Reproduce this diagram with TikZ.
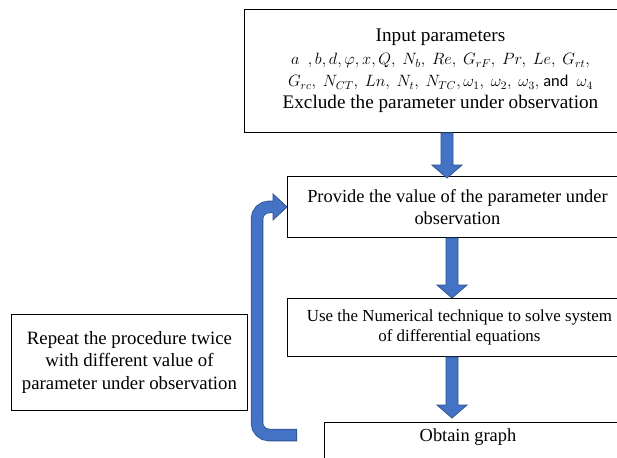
\RequirePackage{fix-cm}
\documentclass[tikz,border=0pt]{standalone}
\usepackage{fontspec}
\setmainfont{Liberation Serif}
\newfontfamily\andfont{Carlito}
\usetikzlibrary{calc}
\definecolor{arrowblue}{HTML}{4472C4}
\definecolor{arrowedge}{HTML}{2F528F}
\newcommand\fatdown[2]{%
  \filldraw[fatarrow] ($(#1)+(-6,0)$) -- ($(#2)+(-6,-13)$) -- ($(#2)+(-15,-13)$) -- (#2)
    -- ($(#2)+(15,-13)$) -- ($(#2)+(6,-13)$) -- ($(#1)+(6,0)$) -- cycle;}
\newcommand\mathline{\fontsize{16.4}{23}\selectfont}
\begin{document}
\begin{tikzpicture}[x=1pt,y=-1pt,
  box/.style={draw=black, line width=0.9pt, inner sep=0pt, align=center,
    font=\fontsize{18.4}{22}\selectfont, anchor=north west},
  fatarrow/.style={fill=arrowblue, draw=arrowedge, line width=0.8pt, line join=miter},
  loopouter/.style={draw=arrowedge, line width=12.5pt, rounded corners=12pt},
  loopinner/.style={draw=arrowblue, line width=10.9pt, rounded corners=12pt}]
\useasboundingbox (0,0) rectangle (617,457);
\clip (0,0) rectangle (617,457);
\fill[white] (0,0) rectangle (617,457);

\node[box, minimum width=392pt, minimum height=123pt, font=\fontsize{19.2}{22}\selectfont] (in) at (244,9)
  {Input parameters\\[1pt]
   {\mathline $a\ \ ,b,d,\varphi,x,Q,\ N_b,\ Re,\ G_{rF},\ Pr,\ Le,\ G_{rt},$}\\
   {\mathline $G_{rc},\ N_{CT},\ Ln,\ N_t,\ N_{TC},\omega_1,\ \omega_2,\ \omega_3,$ {\andfont and} $\ \omega_4$}\\
   Exclude the parameter under observation};

\node[box, minimum width=340pt, minimum height=61pt] (prov) at (287,176)
  {Provide the value of the parameter under\\observation};

\node[box, minimum width=344pt, minimum height=58pt, font=\fontsize{16.9}{20.5}\selectfont] (num) at (287,298)
  {Use the Numerical technique to solve system\\of differential equations};

\node[box, minimum width=296pt, minimum height=60pt, anchor=north west] (graph) at (324,422) {};
\node[font=\fontsize{18.4}{22}\selectfont] (graphtxt) at (468,437) {Obtain graph};

\node[box, minimum width=236pt, minimum height=96pt, font=\fontsize{18.8}{22.5}\selectfont] (rep) at (11,314)
  {Repeat the procedure twice\\with different value of\\parameter under observation};

\coordinate (xa) at (447,0);
\coordinate (xb) at (452,0);
\coordinate (a1s) at (xa |- in.south);
\coordinate (a1e) at ($(xa |- prov.north)+(0,2)$);
\coordinate (a2s) at (xb |- prov.south);
\coordinate (a2e) at (xb |- num.north);
\coordinate (a3s) at (xb |- num.south);
\coordinate (a3e) at ($(xb |- graph.north)+(0,-4)$);
\fatdown{a1s}{a1e}
\fatdown{a2s}{a2e}
\fatdown{a3s}{a3e}

% loop arrow
\coordinate (lstart) at (297,435);
\coordinate (lc1) at (257,435);
\coordinate (ltip) at (prov.west);
\coordinate (lbase) at ($(ltip)+(-14,0)$);
\coordinate (lc2) at (lc1 |- lbase);
\draw[loopouter] (lstart) -- (lc1) -- (lc2) -- (lbase);
\draw[loopinner] ($(lstart)+(-0.8,0)$) -- (lc1) -- (lc2) -- ($(lbase)+(0.5,0)$);
\filldraw[fatarrow] ($(lbase)+(0,-13)$) -- (ltip) -- ($(lbase)+(0,13)$) -- cycle;
\draw[draw=arrowblue, line width=10.9pt] ($(lbase)+(-2,0)$) -- ($(lbase)+(1,0)$);
\end{tikzpicture}
\end{document}
